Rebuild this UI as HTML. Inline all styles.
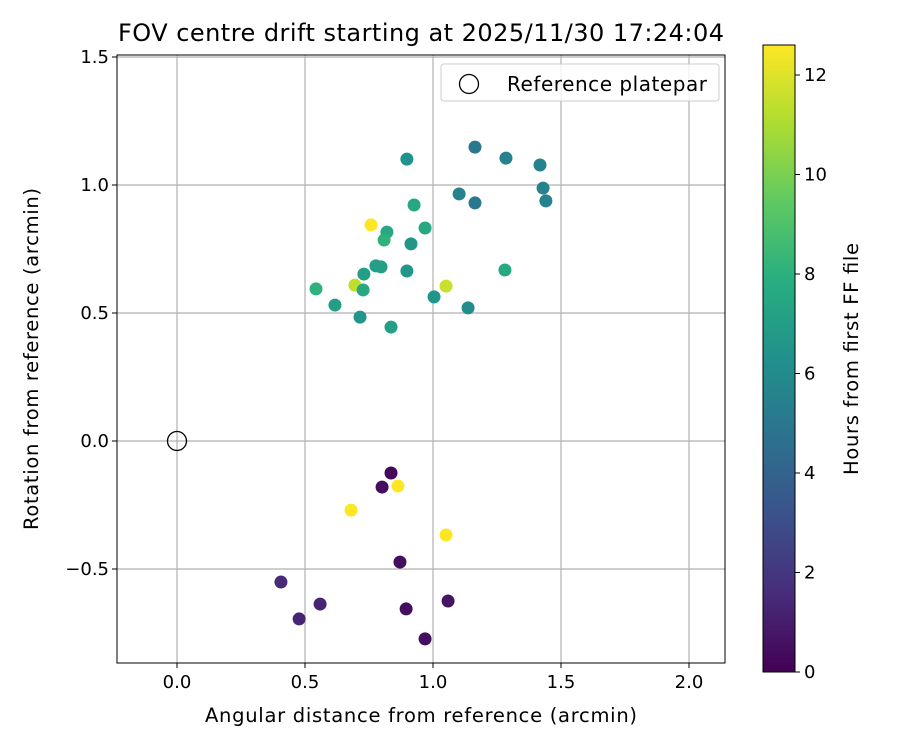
<!DOCTYPE html>
<html><head><meta charset="utf-8"><style>
body{margin:0;background:#fff;font-family:"Liberation Sans",sans-serif;}
svg text{font-family:"DejaVu Sans","Liberation Sans",sans-serif;fill:#000;}
</style></head><body>
<svg id="chart" width="900" height="750" xmlns="http://www.w3.org/2000/svg">
<rect width="900" height="750" fill="#fff"/>
<defs><linearGradient id="vir" x1="0" y1="1" x2="0" y2="0">
<stop offset="0" stop-color="#440154"/><stop offset="0.125" stop-color="#472d7b"/><stop offset="0.25" stop-color="#3b528b"/><stop offset="0.375" stop-color="#2c728e"/><stop offset="0.5" stop-color="#21918c"/><stop offset="0.625" stop-color="#28ae80"/><stop offset="0.75" stop-color="#5ec962"/><stop offset="0.875" stop-color="#addc30"/><stop offset="1" stop-color="#fde725"/></linearGradient></defs>
<g id="grid"></g><g id="pts"></g><g id="axes"></g>
</svg>
<script>
const xs=[0.898,1.164,1.285,1.418,1.430,1.441,1.102,1.164,0.926,0.969,0.758,0.820,0.809,0.914,0.777,0.797,0.730,0.898,1.281,0.695,1.051,0.543,0.727,0.617,1.004,1.137,0.715,0.836,0.836,0.801,0.863,0.680,1.051,0.871,0.406,0.559,0.477,0.895,1.059,0.969];
const ys=[1.101,1.148,1.105,1.078,0.988,0.938,0.965,0.930,0.922,0.832,0.844,0.816,0.785,0.770,0.684,0.680,0.652,0.664,0.668,0.609,0.605,0.594,0.590,0.531,0.563,0.520,0.484,0.445,-0.125,-0.180,-0.176,-0.270,-0.367,-0.473,-0.551,-0.637,-0.695,-0.656,-0.625,-0.773];
const hours=[6.3,5,5.5,5.5,5.5,5.5,5.5,5,7.5,7.5,12.5,7.5,8,6.5,7,7,7,6.5,7.5,11.3,11.5,8,7.5,7,6.5,6,6.5,7,0.3,0.5,12.5,12.5,12.5,0.5,1.5,1.3,1.3,0.5,0.7,0.5];
const xTicks=[0,0.5,1,1.5,2], xTickLabels=["0.0","0.5","1.0","1.5","2.0"];
const yTicks=[-0.5,0,0.5,1,1.5], yTickLabels=["−0.5","0.0","0.5","1.0","1.5"];
const cTicks=[0,2,4,6,8,10,12];
const L=117,R=725,T=55,B=663;
const X=v=>177+v*256, Y=v=>441-v*256, C=v=>672-v*49.75;
const NS="http://www.w3.org/2000/svg";
function mk(par,tag,at,txt){const e=document.createElementNS(NS,tag);for(const k in at)e.setAttribute(k,at[k]);if(txt!==undefined)e.textContent=txt;document.getElementById(par).appendChild(e);return e;}
const stops=[[68,1,84],[71,45,123],[59,82,139],[44,114,142],[33,145,140],[40,174,128],[94,201,98],[173,220,48],[253,231,37]];
function vir(h){let t=Math.max(0,Math.min(1,h/12.5))*8;let i=Math.min(7,Math.floor(t)),f=t-i;const a=stops[i],b=stops[i+1];return `rgb(${a.map((v,k)=>Math.round(v+(b[k]-v)*f)).join(',')})`;}
xTicks.forEach((v,i)=>{
let g=mk('grid','line',{x1:X(v),x2:X(v),y1:T,y2:B,stroke:'#b0b0b0','stroke-width':1.2});

mk('axes','line',{x1:X(v),x2:X(v),y1:B,y2:B+5,stroke:'#000'});
let t=mk('axes','text',{x:X(v),y:B+25,'text-anchor':'middle','font-size':18},xTickLabels[i]);
});
yTicks.forEach((v,i)=>{
let g=mk('grid','line',{x1:L,x2:R,y1:Y(v),y2:Y(v),stroke:'#b0b0b0','stroke-width':1.2});

mk('axes','line',{x1:L-5,x2:L,y1:Y(v),y2:Y(v),stroke:'#000'});
let t=mk('axes','text',{x:L-8,y:Y(v)+6,'text-anchor':'end','font-size':18},yTickLabels[i]);
});
xs.forEach((x,i)=>{let c=mk('pts','circle',{cx:X(x),cy:Y(ys[i]),r:6.5,fill:vir(hours[i])});
});
let ref=mk('pts','circle',{cx:X(0),cy:Y(0),r:9.5,fill:'none',stroke:'#000','stroke-width':1.3});

let fr=mk('axes','rect',{x:L,y:T,width:R-L,height:B-T,fill:'none',stroke:'#000','stroke-width':1});

let lg=mk('axes','rect',{x:441,y:64,width:278,height:37,rx:3,fill:'#fff','fill-opacity':0.8,stroke:'#ccc'});

mk('axes','circle',{cx:469,cy:84,r:9.5,fill:'none',stroke:'#000','stroke-width':1.3});
let lt=mk('axes','text',{x:507,y:91,'font-size':20,textLength:200},'Reference platepar');

let ti=mk('axes','text',{x:421,y:41,'text-anchor':'middle','font-size':24,textLength:606},'FOV centre drift starting at 2025/11/30 17:24:04');

let xt=mk('axes','text',{x:421,y:722,'text-anchor':'middle','font-size':19.5,textLength:432},'Angular distance from reference (arcmin)');

let yt=mk('axes','text',{x:0,y:0,'text-anchor':'middle','font-size':19.5,textLength:342,transform:'translate(38,359) rotate(-90)'},'Rotation from reference (arcmin)');

let cb=mk('axes','rect',{x:763,y:45,width:32,height:627,fill:'url(#vir)',stroke:'#000','stroke-width':1});

cTicks.forEach(v=>{mk('axes','line',{x1:795,x2:800,y1:C(v),y2:C(v),stroke:'#000'});
let t=mk('axes','text',{x:804,y:C(v)+6,'font-size':18},String(v));
});
let ct=mk('axes','text',{x:0,y:0,'text-anchor':'middle','font-size':19.5,textLength:232,transform:'translate(858,359) rotate(-90)'},'Hours from first FF file');

</script>
</body></html>
